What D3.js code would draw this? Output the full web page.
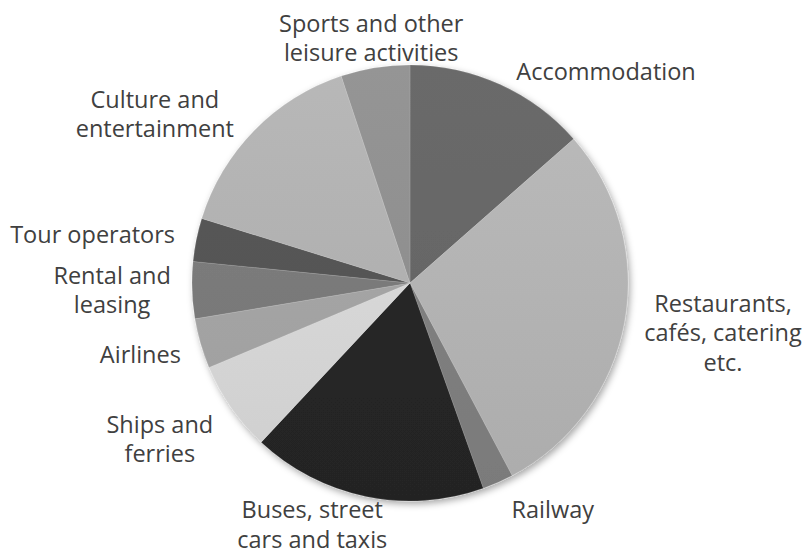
<!DOCTYPE html>
<html>
<head>
<meta charset="utf-8">
<script src="https://cdn.jsdelivr.net/npm/d3@7"></script>
<style>
  html, body { margin: 0; padding: 0; background: #fff; }
  svg { display: block; }
</style>
</head>
<body>
<svg id="chart" width="804" height="560"></svg>
<script>
// ---- data (clockwise from 12 o'clock) ----
const categories = [
  "Accommodation",
  "Restaurants, cafés, catering etc.",
  "Railway",
  "Buses, street cars and taxis",
  "Ships and ferries",
  "Airlines",
  "Rental and leasing",
  "Tour operators",
  "Culture and entertainment",
  "Sports and other leisure activities"
];
const values = [13.5, 28.7, 2.3, 17.4, 6.7, 3.7, 4.2, 3.2, 15.1, 5.1];
const labelLines = [
  ["Accommodation"],
  ["Restaurants,", "cafés, catering", "etc."],
  ["Railway"],
  ["Buses, street", "cars and taxis"],
  ["Ships and", "ferries"],
  ["Airlines"],
  ["Rental and", "leasing"],
  ["Tour operators"],
  ["Culture and", "entertainment"],
  ["Sports and other", "leisure activities"]
];
const sliceColors = ["#666666", "#b3b3b3", "#7f7f7f", "#262626", "#d7d7d7",
                     "#a4a4a4", "#7a7a7a", "#555555", "#b0b0b0", "#8f8f8f"];
// label placement (polar: degrees clockwise from top, distance from centre)
const labelPolar = [[42.9, 288], [99.1, 317], [147.8, 268], [202, 261], [238, 295],
                    [255.1, 279], [268.6, 298], [278.6, 321], [303.5, 306], [351, 248]];

// ---- layout ----
const cx = 410, cy = 283, R = 218;
const fontSize = 23.5, lineH = 29.5;

const svg = d3.select("#chart");
const defs = svg.append("defs");

const shadow = defs.append("filter").attr("id", "shadow")
  .attr("x", "-20%").attr("y", "-20%").attr("width", "140%").attr("height", "140%");
shadow.append("feDropShadow").attr("dx", 2).attr("dy", 3)
  .attr("stdDeviation", 3.5).attr("flood-color", "#000").attr("flood-opacity", 0.35);

sliceColors.forEach((c, i) => {
  const g = defs.append("linearGradient").attr("id", "grad" + i)
    .attr("gradientUnits", "userSpaceOnUse")
    .attr("x1", 0).attr("y1", -R).attr("x2", 0).attr("y2", R);
  const base = d3.color(c);
  g.append("stop").attr("offset", "0%").attr("stop-color", d3.rgb(base).brighter(0.12));
  g.append("stop").attr("offset", "100%").attr("stop-color", d3.rgb(base).darker(0.12));
});

const pie = d3.pie().sort(null).startAngle(0).endAngle(2 * Math.PI);
const arcs = pie(values);
const arc = d3.arc().innerRadius(0).outerRadius(R);

const g = svg.append("g").attr("transform", `translate(${cx},${cy})`);
const sliceG = g.append("g").attr("filter", "url(#shadow)");
sliceG.selectAll("path").data(arcs).join("path")
  .attr("d", arc)
  .attr("fill", (d, i) => `url(#grad${i})`)
  .attr("stroke", "rgba(255,255,255,0.25)")
  .attr("stroke-width", 0.5);

const labels = g.append("g")
  .attr("font-family", "'Open Sans', sans-serif")
  .attr("font-size", fontSize)
  .attr("fill", "#404040")
  .attr("text-anchor", "middle");

labelLines.forEach((lines, i) => {
  const [deg, dist] = labelPolar[i];
  const a = deg * Math.PI / 180;
  const x = dist * Math.sin(a), y = -dist * Math.cos(a);
  const n = lines.length;
  const t = labels.append("text").attr("x", x).attr("y", y);
  lines.forEach((ln, k) => {
    t.append("tspan").attr("x", x)
      .attr("y", y + (k - (n - 1) / 2) * lineH)
      .attr("dy", "0.35em")
      .text(ln);
  });
});
</script>
</body>
</html>
